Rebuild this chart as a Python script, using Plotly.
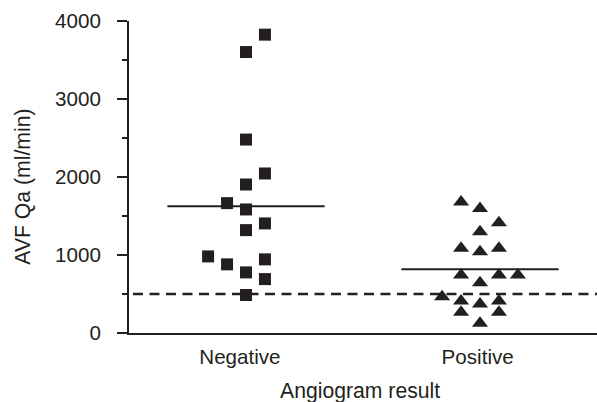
import plotly.graph_objects as go

# ---- data ----
categories = ["Negative", "Positive"]
neg_values = [3825, 3602, 2480, 2045, 1904, 1665, 1584, 1405, 1319, 982, 880, 944, 777, 691, 487]
neg_columns = [1, 0, 0, 1, 0, -1, 0, 1, 0, -2, -1, 1, 0, 1, 0]
pos_values = [1681, 1597, 1412, 1297, 1085, 1041, 1085, 743, 743, 743, 644, 465, 410, 371, 410, 265, 265, 124]
pos_columns = [-1, 0, 1, 0, -1, 0, 1, -1, 1, 2, 0, -2, -1, 0, 1, -1, 1, 0]
group_means = [1626, 816]
threshold = 500
y_ticks = [0, 1000, 2000, 3000, 4000]
y_minor_ticks = [500, 1500, 2500, 3500]

# ---- styling ----
INK = "#231f20"
FONT = "Liberation Sans, Arial, Helvetica, sans-serif"
FS = 20.6
FS_TITLE = 21.2
COL_W = 0.081      # horizontal spacing of point columns (x units)
HALF_MEAN = 0.336  # half length of mean bars (x units)
LABEL_POS = [-0.026, 0.99]  # where the category labels sit under each group

fig = go.Figure()

# dashed reference line
fig.add_trace(go.Scatter(
    x=[-0.483, 1.5], y=[threshold, threshold], mode="lines",
    line=dict(color=INK, width=2.5, dash="10px,6.5px"), hoverinfo="skip"))

# mean bars
for i, m in enumerate(group_means):
    fig.add_trace(go.Scatter(
        x=[i - HALF_MEAN, i + HALF_MEAN], y=[m, m], mode="lines",
        line=dict(color=INK, width=2), hoverinfo="skip"))

# points
fig.add_trace(go.Scatter(
    x=[0 + c * COL_W for c in neg_columns], y=neg_values, mode="markers",
    marker=dict(symbol="square", size=12, color=INK, line=dict(width=0)),
    name=categories[0]))
fig.add_trace(go.Scatter(
    x=[1 + c * COL_W for c in pos_columns], y=pos_values, mode="markers",
    marker=dict(symbol="triangle-up", size=14, color=INK, line=dict(width=0)),
    name=categories[1]))

fig.update_layout(
    width=597, height=402,
    margin=dict(l=129, r=0, t=21, b=69, pad=0),
    paper_bgcolor="white", plot_bgcolor="white",
    showlegend=False,
    font=dict(family=FONT, size=FS, color=INK),
    xaxis=dict(
        range=[-0.5, 1.5], tickmode="array", tickvals=LABEL_POS, ticktext=categories,
        showline=True, linewidth=2, linecolor=INK, ticks="",
        ticklabelstandoff=4,
        showgrid=False, zeroline=False,
        tickfont=dict(family=FONT, size=FS, color=INK)),
    yaxis=dict(
        range=[0, 4000], tickmode="array", tickvals=y_ticks,
        ticktext=[str(v) for v in y_ticks],
        showline=True, linewidth=2, linecolor=INK,
        ticks="outside", ticklen=10, tickwidth=2, tickcolor=INK,
        ticklabelstandoff=12,
        minor=dict(tickmode="array", tickvals=y_minor_ticks, ticks="outside",
                   ticklen=5, tickwidth=2, tickcolor=INK, showgrid=False),
        showgrid=False, zeroline=False,
        tickfont=dict(family=FONT, size=FS, color=INK)),
    annotations=[
        dict(text="Angiogram result", xref="paper", yref="paper",
             x=0.493, y=-0.186, xanchor="center", yanchor="middle",
             showarrow=False, font=dict(family=FONT, size=FS_TITLE, color=INK)),
        dict(text="AVF Qa (ml/min)", xref="paper", yref="paper",
             x=-0.2265, y=0.469, xanchor="center", yanchor="middle",
             textangle=-90, showarrow=False,
             font=dict(family=FONT, size=FS_TITLE, color=INK)),
    ],
)

# remove the browser's default 8px page margin so the figure sits at (0, 0)
fig.write_html("out.html", config={"displayModeBar": False},
               post_script="document.body.style.margin='0px';")
